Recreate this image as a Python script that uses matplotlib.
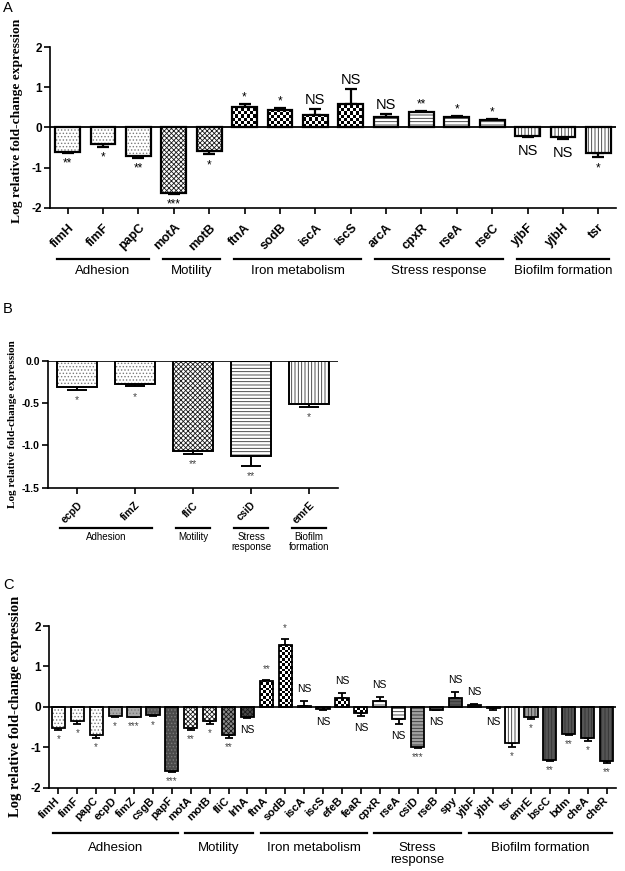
import numpy as np
import matplotlib.pyplot as plt

plt.rcParams['font.family'] = ['Liberation Sans', 'DejaVu Sans']
plt.rcParams['axes.unicode_minus'] = False
plt.rcParams['hatch.linewidth'] = 0.6

# ---- panel A data
a_genes = ['fimH', 'fimF', 'papC', 'motA', 'motB', 'ftnA', 'sodB', 'iscA', 'iscS',
           'arcA', 'cpxR', 'rseA', 'rseC', 'yjbF', 'yjbH', 'tsr']
a_vals = [-0.62, -0.42, -0.72, -1.63, -0.60, 0.50, 0.42, 0.30, 0.58,
          0.25, 0.37, 0.25, 0.18, -0.22, -0.23, -0.63]
a_err = [0.02, 0.07, 0.04, 0.03, 0.07, 0.08, 0.06, 0.16, 0.37,
         0.08, 0.03, 0.04, 0.03, 0.03, 0.05, 0.12]
a_sig = ['**', '*', '**', '***', '*', '*', '*', 'NS', 'NS',
         'NS', '**', '*', '*', 'NS', 'NS', '*']
a_groups = ['Adhesion', 'Motility', 'Iron metabolism', 'Stress response', 'Biofilm formation']
a_group_sizes = [3, 2, 4, 4, 3]

# ---- panel B data
b_genes = ['ecpD', 'fimZ', 'fliC', 'csiD', 'emrE']
b_vals = [-0.31, -0.27, -1.06, -1.12, -0.51]
b_err = [0.03, 0.03, 0.04, 0.12, 0.03]
b_sig = ['*', '*', '**', '**', '*']
b_groups = ['Adhesion', 'Motility', 'Stress\nresponse', 'Biofilm\nformation']
b_group_sizes = [2, 1, 1, 1]

# ---- panel C data
c_genes = ['fimH', 'fimF', 'papC', 'ecpD', 'fimZ', 'csgB', 'papF',
           'motA', 'motB', 'fliC', 'lrhA',
           'ftnA', 'sodB', 'iscA', 'iscS', 'efeB', 'feaR',
           'cpxR', 'rseA', 'csiD', 'rseB', 'spy',
           'yjbF', 'yjbH', 'tsr', 'emrE', 'bscC', 'bdm', 'cheA', 'cheR']
c_vals = [-0.53, -0.35, -0.70, -0.22, -0.24, -0.19, -1.58,
          -0.53, -0.35, -0.70, -0.25,
          0.65, 1.52, 0.03, -0.05, 0.23, -0.15,
          0.15, -0.30, -0.99, -0.07, 0.22,
          0.05, -0.04, -0.90, -0.26, -1.31, -0.67, -0.77, -1.35]
c_err = [0.05, 0.07, 0.08, 0.03, 0.02, 0.03, 0.03,
         0.04, 0.07, 0.08, 0.02,
         0.02, 0.16, 0.12, 0.04, 0.12, 0.07,
         0.10, 0.13, 0.03, 0.02, 0.14,
         0.02, 0.05, 0.09, 0.04, 0.02, 0.02, 0.07, 0.04]
c_sig = ['*', '*', '*', '*', '***', '*', '***',
         '**', '*', '**', 'NS',
         '**', '*', 'NS', 'NS', 'NS', 'NS',
         'NS', 'NS', '***', 'NS', 'NS',
         'NS', 'NS', '*', '*', '**', '**', '*', '**']
c_groups = ['Adhesion', 'Motility', 'Iron metabolism', 'Stress\nresponse', 'Biofilm formation']
c_group_sizes = [7, 4, 6, 5, 8]

# ---- fill styles: pattern -> (hatch, hatch colour)
hatches = {'dots': ('.....', '#7a7a7a'), 'cross': ('xxxxxxx', '#1a1a1a'),
           'hl': ('-----', '#333333'), 'vl': ('|||||', '#333333'),
           'check': ('', 'black')}
a_style = ['dots'] * 3 + ['cross'] * 2 + ['check'] * 4 + ['hl'] * 4 + ['vl'] * 3
a_face = ['white'] * 16
b_style = ['dots', 'dots', 'cross', 'hl', 'vl']
b_face = ['white'] * 5
c_style = (['dots'] * 7 + ['cross'] * 4 + ['check'] * 6 + ['hl'] * 5
           + ['vl'] * 8)
c_face = (['white'] * 3 + ['#a8a8a8', '#a8a8a8', '#555555', '#4a4a4a']
          + ['white', 'white', '#8a8a8a', '#4a4a4a']
          + ['white'] * 6
          + ['white', 'white', '#a0a0a0', '#555555', '#555555']
          + ['#4a4a4a', 'white', 'white', '#a0a0a0', '#555555', '#555555', '#555555', '#555555'])

fig = plt.figure(figsize=(6.25, 8.71), dpi=100)
W, H = 625.0, 871.0


def axes_px(left, top, right, bottom):
    return fig.add_axes([left / W, 1 - bottom / H, (right - left) / W, (bottom - top) / H])


def checker(ax, bar, dx, dy):
    x0, y0 = bar.get_x(), bar.get_y()
    w, h = bar.get_width(), bar.get_height()
    ylo, yhi = min(y0, y0 + h), max(y0, y0 + h)
    nx = int(np.ceil(w / dx)) + 1
    ny = int(np.ceil((yhi - ylo) / dy)) + 1
    grid = (np.add.outer(np.arange(ny), np.arange(nx)) % 2).astype(float)
    im = ax.imshow(grid, extent=(x0, x0 + nx * dx, ylo, ylo + ny * dy), cmap='gray',
                   vmin=0, vmax=1, interpolation='nearest', aspect='auto',
                   origin='lower', zorder=2.2)
    im.set_clip_path(bar)


def panel(ax, genes, vals, errs, sig, style, face, groups, sizes, o):
    x = np.arange(len(genes))
    for xi, v, s, fc in zip(x, vals, style, face):
        hp, hc = hatches[s]
        b = ax.bar(xi, v, 0.7, color=fc, edgecolor=hc, linewidth=0, hatch=hp, zorder=2)[0]
        if s == 'check':
            checker(ax, b, o['cdx'], o['cdy'])
    ax.bar(x, vals, 0.7, fill=False, edgecolor='black', linewidth=o['blw'], zorder=2.5)
    vals = np.array(vals)
    errs = np.array(errs)
    lo = np.where(vals < 0, errs, 0)
    hi = np.where(vals >= 0, errs, 0)
    ax.errorbar(x, vals, yerr=[lo, hi], fmt='none', ecolor='black', elinewidth=o['blw'],
                capsize=o['cap'], capthick=o['blw'], zorder=1.8)
    ax.axhline(0, color='black', lw=o['zlw'], zorder=3)
    for xi, v, e, s in zip(x, vals, errs, sig):
        end = v + e if v >= 0 else v - e
        ns = s == 'NS'
        fs = o['nsfs'] if ns else o['afs']
        col = 'black' if ns else o['acol']
        if v >= 0:
            off = o['ns_up'] if ns else o['a_up']
            ax.annotate(s, (xi, end), xytext=(0, off), textcoords='offset points',
                        ha='center', va='bottom', fontsize=fs, color=col)
        else:
            off = o['ns_dn'] if ns else o['a_dn']
            ax.annotate(s, (xi, end), xytext=(0, -off), textcoords='offset points',
                        ha='center', va='top', fontsize=fs, color=col)
    ax.set_xlim(-0.5, len(genes) - 0.5)
    ax.set_ylim(o['ylim'])
    ax.set_yticks(o['yticks'])
    ax.set_yticklabels(o['yticklabels'], fontweight='bold', fontsize=o['ytfs'])
    ax.set_xticks(x)
    ax.set_xticklabels(genes, rotation=45, ha='right', va=o['xva'],
                       rotation_mode='anchor', fontweight='bold', fontsize=o['xtfs'])
    ax.tick_params(axis='x', length=4, width=1.2, pad=o['xpad'])
    ax.tick_params(axis='y', length=4, width=1.2, pad=2)
    for sp in ['top', 'right']:
        ax.spines[sp].set_visible(False)
    for sp in ['left', 'bottom']:
        ax.spines[sp].set_linewidth(1.2)
    ax.set_ylabel('Log relative fold-change expression', family='Liberation Serif',
                  fontweight='bold', fontsize=o['ylfs'])
    ax.yaxis.set_label_coords(*o['ylpos'])
    start = 0
    for g, n in zip(groups, sizes):
        ax.plot([start - 0.3, start + n - 1 + 0.3], [o['gline']] * 2, color='black',
                lw=1.6, clip_on=False, transform=ax.get_xaxis_transform())
        ax.text(start + (n - 1) / 2, o['gtext'], g, ha='center', va='top',
                fontsize=o['gfs'], linespacing=1.05, transform=ax.get_xaxis_transform())
        start += n


axA = axes_px(50, 47, 616, 207.7)
panel(axA, a_genes, a_vals, a_err, a_sig, a_style, a_face, a_groups, a_group_sizes,
      dict(blw=1.6, zlw=1.3, cap=4, cdx=0.085, cdy=0.075, nsfs=10.5, afs=8.5,
           acol='black', ns_up=1.5, ns_dn=5, a_up=0.5, a_dn=3.5,
           ylim=(-2, 2), yticks=[-2, -1, 0, 1, 2], yticklabels=['-2', '-1', '0', '1', '2'],
           ytfs=8.5, xtfs=9, xva='top', xpad=6, ylfs=9.7, ylpos=(-0.048, 0.54),
           gline=-0.319, gtext=-0.357, gfs=9.5))

axB = axes_px(48, 361, 338, 487.7)
panel(axB, b_genes, b_vals, b_err, b_sig, b_style, b_face, b_groups, b_group_sizes,
      dict(blw=1.4, zlw=1.2, cap=7, cdx=0.05, cdy=0.03, nsfs=7.5, afs=7.5,
           acol='#444444', ns_up=1, ns_dn=4, a_up=1, a_dn=4,
           ylim=(-1.5, 0), yticks=[-1.5, -1.0, -0.5, 0.0],
           yticklabels=['-1.5', '-1.0', '-0.5', '0.0'],
           ytfs=7.5, xtfs=7.5, xva='top', xpad=5, ylfs=8, ylpos=(-0.107, 0.5),
           gline=-0.316, gtext=-0.347, gfs=7))

axC = axes_px(49, 626, 616, 787.7)
panel(axC, c_genes, c_vals, c_err, c_sig, c_style, c_face, c_groups, c_group_sizes,
      dict(blw=1.3, zlw=1.2, cap=3, cdx=0.143, cdy=0.067, nsfs=7.5, afs=7,
           acol='#444444', ns_up=5, ns_dn=5, a_up=4, a_dn=3,
           ylim=(-2, 2), yticks=[-2, -1, 0, 1, 2], yticklabels=['-2', '-1', '0', '1', '2'],
           ytfs=8.5, xtfs=8, xva='center', xpad=4, ylfs=10.5, ylpos=(-0.048, 0.5),
           gline=-0.28, gtext=-0.334, gfs=9.5))

fig.text(3 / W, 1 - 1 / H, 'A', va='top', ha='left', fontsize=10.5)
fig.text(3 / W, 1 - 302 / H, 'B', va='top', ha='left', fontsize=10.5)
fig.text(3 / W, 1 - 578 / H, 'C', va='top', ha='left', fontsize=10.5)

fig.savefig('out.png', dpi=100)
